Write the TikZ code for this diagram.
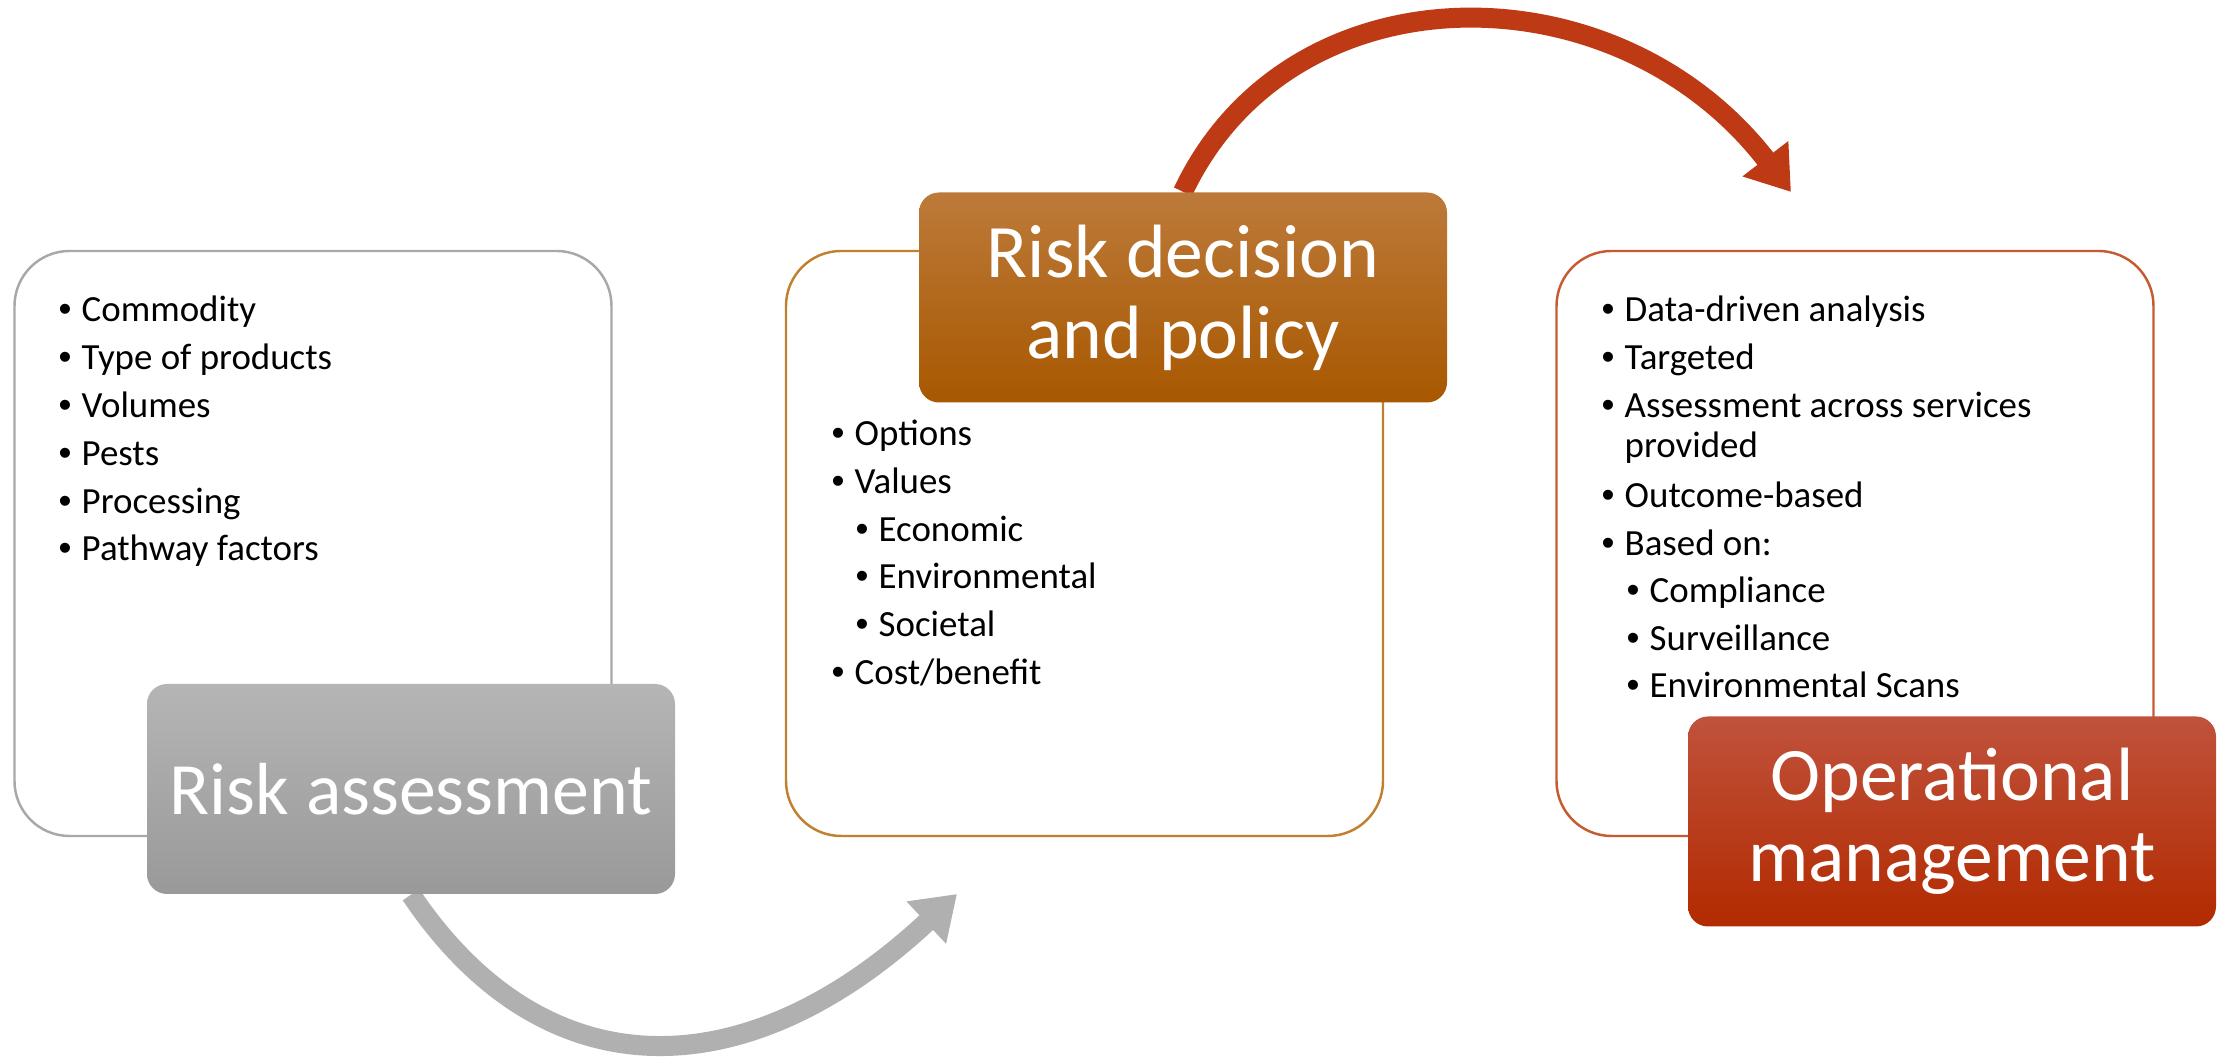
\documentclass[tikz,border=0pt]{standalone}
\usepackage{fontspec}
\setmainfont{Carlito}
\newfontfamily\bulletfont{Liberation Sans}
\usetikzlibrary{arrows.meta,backgrounds,positioning}

\definecolor{paneGray}{HTML}{A8A8A8}
\definecolor{paneOrange}{HTML}{C0802E}
\definecolor{paneRed}{HTML}{C65A30}
\definecolor{flowGray}{HTML}{B0B0B0}
\definecolor{flowRed}{HTML}{BE3A14}

\newcommand{\bul}[1]{\makebox[0.23cm][l]{\bulletfont\textbullet}#1}

\begin{document}
\begin{tikzpicture}[
    panel/.style={draw, fill=white, rounded corners=0.55cm, line width=0.7pt,
      minimum width=5.97cm, minimum height=5.85cm, inner sep=0pt},
    heading/.style={rounded corners=0.2cm, minimum width=5.28cm, minimum height=2.1cm,
      inner sep=0pt, text=white, align=center, font=\fontsize{21.5}{23}\selectfont},
    item/.style={anchor=base west, inner sep=0pt, font=\fontsize{10.5}{12}\selectfont},
    flow/.style={line width=0.2cm, -{Triangle[width=0.55cm,length=0.42cm]}}
  ]
  \useasboundingbox (0,0) rectangle (22.33,10.6);

  % panels
  \node[panel, draw=paneGray] (rapanel) at (3.13,5.165) {};
  \node[panel, draw=paneOrange] (rdpanel) at (10.845,5.165) {};
  \node[panel, draw=paneRed] (ompanel) at (18.55,5.165) {};

  % headings
  \node[heading, top color=gray!58, bottom color=gray!80,
    font=\fontsize{21}{23}\selectfont] (ra) at (4.11,2.71) {Risk assessment};
  \node[heading, top color={rgb,255:red,188;green,122;blue,58},
    bottom color={rgb,255:red,168;green,88;blue,0}] (rd) at (11.83,7.625) {Risk decision\\and policy};
  \node[heading, top color={rgb,255:red,192;green,82;blue,60},
    bottom color={rgb,255:red,178;green,42;blue,0}] (om) at (19.52,2.385) {Operational\\management};

  % bullet lists
  \foreach \t [count=\i] in {Commodity, Type of products, Volumes, Pests, Processing, Pathway factors}
    \node[item] (ra\i) at (0.58,{7.38-0.478*(\i-1)}) {\bul{\t}};

  \foreach \x/\y/\t [count=\i] in {8.31/6.14/Options, 8.31/5.66/Values, 8.55/5.18/Economic,
      8.55/4.71/Environmental, 8.55/4.23/Societal, 8.31/3.75/Cost\slash benefit}
    \node[item] (rd\i) at (\x,\y) {\bul{\t}};

  \foreach \x/\y/\t [count=\i] in {16.01/7.38/Data-driven analysis, 16.01/6.90/Targeted,
      16.01/6.42/Assessment across services, 16.24/6.02/provided, 16.01/5.52/Outcome-based,
      16.01/5.04/Based on:, 16.26/4.57/Compliance, 16.26/4.09/Surveillance,
      16.26/3.62/Environmental Scans}
    \node[item] (om\i) at (\x,\y) {\ifnum\i=4 \t\else\bul{\t}\fi};

  % arrows behind the boxes
  \coordinate (graytip) at (9.57,1.66);
  \coordinate (redtip) at (17.91,8.68);
  \begin{scope}[on background layer]
    \draw[flow, flowGray] (ra.south) .. controls (5.45,-0.34) and (7.47,-0.30) .. (graytip);
    \draw[flow, flowRed] (rd.north) .. controls (12.9,10.95) and (16.16,10.95) .. (redtip);
  \end{scope}
\end{tikzpicture}
\end{document}
